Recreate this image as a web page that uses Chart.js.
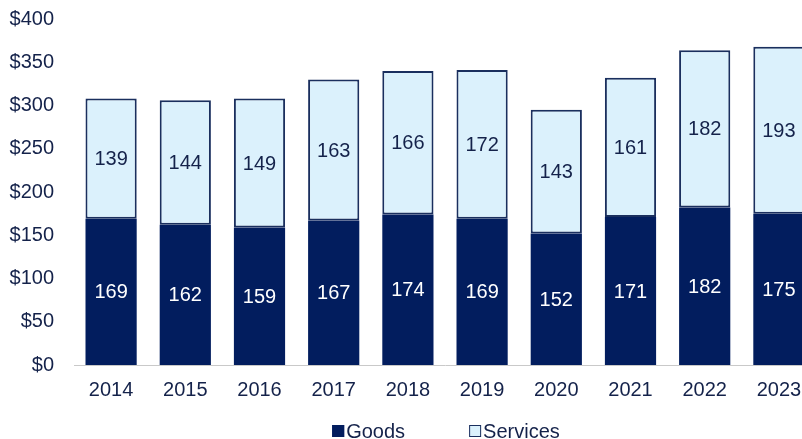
<!DOCTYPE html>
<html>
<head>
<meta charset="utf-8">
<script src="https://cdn.jsdelivr.net/npm/chart.js@4/dist/chart.umd.min.js"></script>
<style>
  html, body { margin: 0; padding: 0; background: #ffffff; overflow: hidden; }
  #wrap { width: 802px; height: 439px; overflow: hidden; position: relative; }
  #box { width: 820px; height: 439px; position: absolute; left: 0; top: 0; }
</style>
</head>
<body>
<div id="wrap"><div id="box"><canvas id="c"></canvas></div></div>
<script>
const years = ['2014','2015','2016','2017','2018','2019','2020','2021','2022','2023'];
const goods = [169,162,159,167,174,169,152,171,182,175];
const services = [139,144,149,163,166,172,143,161,182,193];
const yTicks = [0,50,100,150,200,250,300,350,400];

const NAVY = '#021d5e';
const LIGHT = '#dbf1fc';
const EDGE = '#1a2f5e';
const TEXT = '#14224a';
const FONT = '"Liberation Sans", Arial, Helvetica, sans-serif';

const segmentLabels = {
  id: 'segmentLabels',
  afterDatasetsDraw(chart) {
    const ctx = chart.ctx;
    ctx.save();
    ctx.font = '20px ' + FONT;
    ctx.textAlign = 'center';
    ctx.textBaseline = 'middle';
    chart.data.datasets.forEach((ds, di) => {
      const meta = chart.getDatasetMeta(di);
      meta.data.forEach((bar, i) => {
        const p = bar.getProps(['x','y','base'], true);
        ctx.fillStyle = di === 0 ? '#ffffff' : TEXT;
        ctx.fillText(String(ds.data[i]), p.x, (p.y + p.base) / 2 + 1);
      });
    });
    ctx.restore();
  }
};

const LEGEND_CENTER = 446;
const customLegend = {
  id: 'customLegend',
  afterDraw(chart) {
    const ctx = chart.ctx;
    ctx.save();
    ctx.font = '20px ' + FONT;
    ctx.textBaseline = 'middle';
    ctx.textAlign = 'left';
    const box = 12, gap = 2, itemGap = 64;
    const items = chart.data.datasets.map(ds => ({ds, w: box + gap + ctx.measureText(ds.label).width}));
    const total = items.reduce((s, it) => s + it.w, 0) + itemGap * (items.length - 1);
    let x = LEGEND_CENTER - total / 2;
    const yc = 431;
    items.forEach(it => {
      ctx.fillStyle = it.ds.backgroundColor;
      ctx.fillRect(x, yc - box / 2, box, box);
      ctx.strokeStyle = it.ds.borderColor;
      ctx.lineWidth = 1;
      ctx.strokeRect(x + 0.5, yc - box / 2 + 0.5, box - 1, box - 1);
      ctx.fillStyle = TEXT;
      ctx.fillText(it.ds.label, x + box + gap, yc + 1);
      x += it.w + itemGap;
    });
    ctx.restore();
  }
};

new Chart(document.getElementById('c'), {
  type: 'bar',
  data: {
    labels: years,
    datasets: [
      { label: 'Goods', data: goods, backgroundColor: NAVY, borderColor: NAVY, borderWidth: 0 },
      { label: 'Services', data: services, backgroundColor: LIGHT, borderColor: EDGE, borderWidth: 2, borderSkipped: false }
    ]
  },
  options: {
    responsive: true,
    maintainAspectRatio: false,
    animation: false,
    devicePixelRatio: 1,
    layout: { padding: { left: 8, right: 4, top: 19, bottom: 24 } },
    plugins: { legend: { display: false }, tooltip: { enabled: false } },
    datasets: { bar: { categoryPercentage: 1.0, barPercentage: 0.69 } },
    scales: {
      x: {
        stacked: true,
        grid: { display: false, drawTicks: false },
        border: { display: true, color: '#c9c9c9', width: 1 },
        ticks: { color: TEXT, font: { family: FONT, size: 20 }, padding: 13, maxRotation: 0 }
      },
      y: {
        stacked: true,
        min: 0, max: 400,
        afterBuildTicks(scale) { scale.ticks = yTicks.map(v => ({ value: v })); },
        afterFit(scale) { scale.width = 66; scale.paddingTop = 12; scale.paddingBottom = 12; },
        grid: { display: false, drawTicks: false },
        border: { display: false },
        ticks: { color: TEXT, font: { family: FONT, size: 20 }, padding: 20, callback: v => '$' + v }
      }
    }
  },
  plugins: [segmentLabels, customLegend]
});
</script>
</body>
</html>
